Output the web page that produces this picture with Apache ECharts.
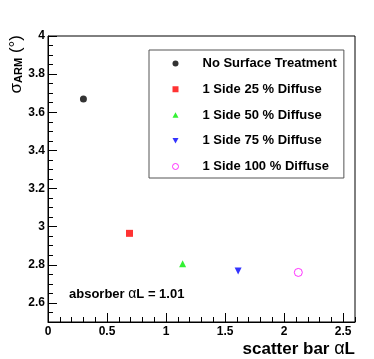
<!DOCTYPE html>
<html><head><meta charset="utf-8">
<script src="https://cdn.jsdelivr.net/npm/echarts@6/dist/echarts.min.js"></script>
<style>html,body{margin:0;padding:0;background:#fff}#c{width:374px;height:359px}</style>
</head><body><div id="c"></div>
<script>
const seriesNames = ['No Surface Treatment', '1 Side 25 % Diffuse', '1 Side 50 % Diffuse', '1 Side 75 % Diffuse', '1 Side 100 % Diffuse'];
const scatterAlphaL = [0.30, 0.69, 1.14, 1.61, 2.12];
const sigmaARM = [3.67, 2.965, 2.805, 2.768, 2.76];
const xTickLabels = [0, 0.5, 1, 1.5, 2, 2.5];
const yTickLabels = [2.6, 2.8, 3, 3.2, 3.4, 3.6, 3.8, 4];
const absorberAlphaL = '1.01';

const DOWN_TRI = 'path://M0,0L10,0L5,9Z';
const UP_TRI = 'path://M5,0L10,9L0,9Z';
const symbols = ['circle', 'rect', UP_TRI, DOWN_TRI, 'circle'];
const colors = ['#000000', '#ff0000', '#00ee00', '#0000ff', '#ff00ff'];
const FONT = '"Liberation Sans", Arial, Helvetica, sans-serif';

const chart = echarts.init(document.getElementById('c'));
const hollow = i => i === 4;
const series = seriesNames.map((n, i) => ({
  name: n, type: 'scatter', xAxisIndex: 0, yAxisIndex: 0,
  symbol: symbols[i], symbolSize: hollow(i) ? 8 : 7,
  itemStyle: hollow(i) ? { color: 'rgba(255,255,255,0)', borderColor: colors[i], borderWidth: 1 } : { color: colors[i] },
  data: [[scatterAlphaL[i], sigmaARM[i]]],
  z: 5
}));

const legendData = seriesNames.map((n, i) => ({
  name: n, icon: symbols[i],
  itemStyle: hollow(i) ? { color: '#fff', borderColor: colors[i], borderWidth: 1 } : { color: colors[i], borderWidth: 0 }
}));

const axisLine = { show: true, lineStyle: { color: '#000', width: 1 } };
chart.setOption({
  animation: false,
  backgroundColor: '#fff',
  grid: { left: 48, right: 19, top: 36, bottom: 37, show: true, borderColor: '#000', borderWidth: 1 },
  xAxis: [
    { type: 'value', min: 0, max: 2.6, position: 'bottom',
      axisLine: axisLine, splitLine: { show: false },
      axisTick: { show: true, inside: true, length: 9, lineStyle: { color: '#000' }, customValues: xTickLabels },
      axisLabel: { show: true, customValues: xTickLabels, margin: 4, color: '#000', fontFamily: FONT, fontWeight: 'bold', fontSize: 12,
        formatter: v => String(v) } },
    { type: 'value', min: 0, max: 2.6, interval: 0.1, position: 'bottom', gridIndex: 0,
      axisLine: { show: false }, splitLine: { show: false }, axisLabel: { show: false },
      axisTick: { show: true, inside: true, length: 5, lineStyle: { color: '#000' } } }
  ],
  yAxis: [
    { type: 'value', min: 2.5, max: 4, position: 'left',
      axisLine: axisLine, splitLine: { show: false },
      axisTick: { show: true, inside: true, length: 9, lineStyle: { color: '#000' }, customValues: yTickLabels },
      axisLabel: { show: true, customValues: yTickLabels, margin: 3, color: '#000', fontFamily: FONT, fontWeight: 'bold', fontSize: 12,
        formatter: v => String(Math.round(v * 10) / 10) } },
    { type: 'value', min: 2.5, max: 4, interval: 0.05, position: 'left', gridIndex: 0,
      axisLine: { show: false }, splitLine: { show: false }, axisLabel: { show: false },
      axisTick: { show: true, inside: true, length: 5, lineStyle: { color: '#000' } } }
  ],
  legend: {
    orient: 'vertical', left: 149, top: 50,
    padding: [6, 7, 4, 23], itemGap: 10.75, itemWidth: 6, itemHeight: 6,
    borderColor: '#555', borderWidth: 1, backgroundColor: '#fff',
    textStyle: { color: '#000', fontFamily: FONT, fontWeight: 'bold', fontSize: 13, lineHeight: 15, padding: [0, 0, 0, 19] },
    data: legendData
  },
  graphic: [
    { type: 'text', left: 69, top: 287, z: 10,
      style: { text: '{b|absorber }{a|α}{b|L = ' + absorberAlphaL + '}',
        rich: { b: { fontFamily: FONT, fontWeight: 'bold', fontSize: 13, fill: '#000' },
                a: { fontFamily: FONT, fontSize: 14, fill: '#000' } } } },
    { type: 'text', right: 19, top: 340, z: 10,
      style: { text: '{b|scatter bar }{a|α}{b|L}',
        rich: { b: { fontFamily: FONT, fontWeight: 'bold', fontSize: 17, fill: '#000' },
                a: { fontFamily: FONT, fontSize: 18, fill: '#000' } } } },
    { type: 'text', x: 16, y: 35, rotation: Math.PI / 2, z: 10,
      style: { text: '{s|σ}{sub|ARM}{s| (°)}', align: 'right', verticalAlign: 'middle',
        rich: { s: { fontFamily: FONT, fontSize: 17, fill: '#000', verticalAlign: 'bottom' },
                sub: { fontFamily: FONT, fontWeight: 'bold', fontSize: 11, fill: '#000', padding: [6, 0, 0, 0], verticalAlign: 'bottom' } } } }
  ],
  series: series
});
</script></body></html>
